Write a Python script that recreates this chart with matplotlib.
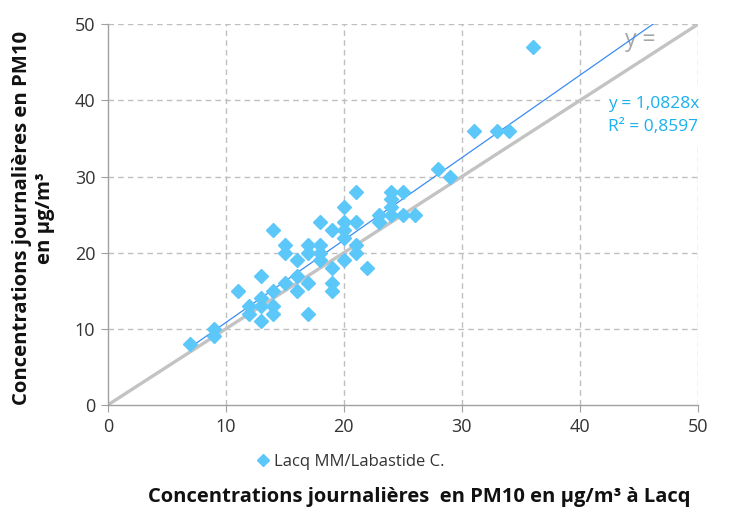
import matplotlib
matplotlib.use("Agg")
import matplotlib.pyplot as plt
import numpy as np

plt.rcParams['font.family'] = ['Open Sans', 'DejaVu Sans']

# Data: Lacq (x) vs Labastide C. (y), daily PM10 in µg/m³
x_vals = [7, 9, 9, 11, 12, 12, 13, 13, 13, 13, 14, 14, 14, 14,
          15, 15, 15, 16, 16, 16, 17, 17, 17, 17, 18, 18, 18, 18,
          19, 19, 19, 19, 20, 20, 20, 20, 20, 21, 21, 21, 21, 22,
          23, 23, 24, 24, 24, 24, 25, 25, 26, 28, 29, 31, 33, 34, 36]
y_vals = [8, 10, 9, 15, 13, 12, 14, 13, 11, 17, 15, 13, 12, 23,
          21, 20, 16, 19, 17, 15, 21, 20, 16, 12, 24, 21, 20, 19,
          23, 18, 16, 15, 26, 24, 23, 22, 19, 28, 24, 21, 20, 18,
          25, 24, 28, 27, 26, 25, 28, 25, 25, 31, 30, 36, 36, 36, 47]
slope = 1.0828
r2_text = "0,8597"
ticks = [0, 10, 20, 30, 40, 50]
series_name = "Lacq MM/Labastide C."
xlabel = "Concentrations journalières  en PM10 en µg/m³ à Lacq"
ylabel = "Concentrations journalières en PM10\nen µg/m³"

fig = plt.figure(figsize=(7.33, 5.13), dpi=100)
ax = fig.add_axes([0.147, 0.2105, 0.805, 0.742])

ax.set_xlim(0, 50)
ax.set_ylim(0, 50)
ax.set_xticks(ticks)
ax.set_yticks(ticks)

grid_color = '#BFBFBF'
for t in ticks[1:]:
    ax.axhline(t, color=grid_color, lw=1, ls=(0, (4, 3)), zorder=1)
    ax.axvline(t, color=grid_color, lw=1, ls=(0, (4, 3)), zorder=1)

for s in ['top', 'right']:
    ax.spines[s].set_visible(False)
for s in ['left', 'bottom']:
    ax.spines[s].set_color('#A0A0A0')
    ax.spines[s].set_linewidth(1)
ax.tick_params(axis='both', direction='out', length=5, color='#A0A0A0',
               labelsize=13, labelcolor='#333333', pad=4)

# identity line y = x
ax.plot([0, 50], [0, 50], color='#C3C3C3', lw=2.4, zorder=2, solid_capstyle='butt')

# trend line
tx = np.array([min(x_vals), 50 / slope])
ax.plot(tx, slope * tx, color='#3A8CF5', lw=0.9, zorder=3)

ax.plot(x_vals, y_vals, ls='none', marker='D', ms=6.8, color='#5CC8FA',
        mec='#5CC8FA', zorder=4, clip_on=False, label=series_name)

ax.text(43.8, 47.2, "y =", color='#A6A6A6', fontsize=16.5, zorder=2,
        va='baseline')
ax.text(42.4, 38.0, "y = 1,0828x\nR² = " + r2_text, color='#1AB0EE', fontsize=12.5,
        va='center', ha='left', linespacing=1.55, zorder=5,
        bbox=dict(facecolor='white', edgecolor='none', pad=5))

leg = fig.legend(loc='center', bbox_to_anchor=(0.476, 0.099), frameon=False,
                 fontsize=12, handletextpad=0.05, markerscale=0.85,
                 handlelength=1.2)
for txt in leg.get_texts():
    txt.set_color('#333333')

fig.text(0.572, 0.031, xlabel, ha='center', va='center', fontsize=14.5,
         fontweight='bold', color='#111111')
fig.text(0.046, 0.575, ylabel, ha='center', va='center', rotation=90,
         fontsize=14.6, fontweight='bold', color='#111111', linespacing=1.2)

fig.savefig("out.png", dpi=100)
